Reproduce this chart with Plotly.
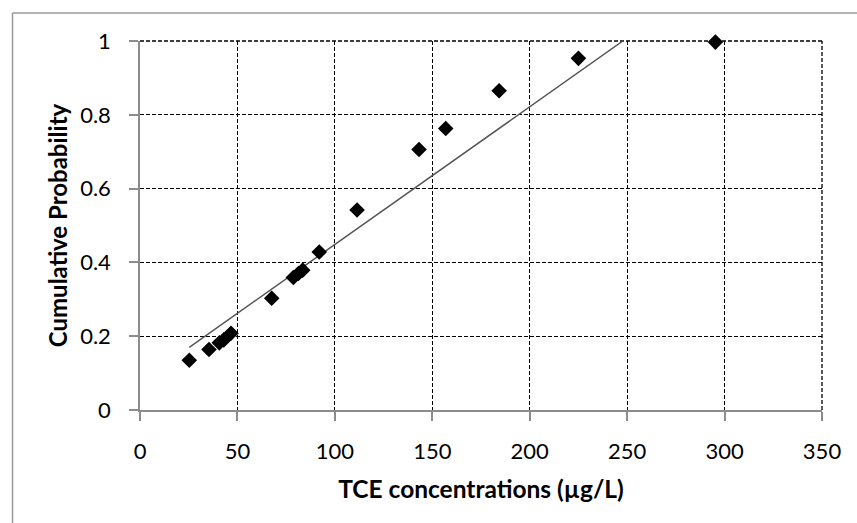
import plotly.graph_objects as go

# Observed data (TCE concentration in ug/L vs cumulative probability)
tce_conc = [25.3, 35.4, 40.7, 43.0, 46.7, 67.6, 78.7, 81.3, 83.5, 92.0,
            111.4, 143.2, 156.9, 184.3, 225.0, 295.3]
cum_prob = [0.135, 0.164, 0.182, 0.190, 0.208, 0.303, 0.359, 0.370, 0.379, 0.428,
            0.542, 0.706, 0.763, 0.865, 0.953, 0.997]

# Fitted line endpoints
fit_x = [25.3, 247.8]
fit_y = [0.170, 1.000]

x_ticks = [0, 50, 100, 150, 200, 250, 300, 350]
y_ticks = [0, 0.2, 0.4, 0.6, 0.8, 1]
y_tick_labels = ["0", "0.2", "0.4", "0.6", "0.8", "1"]

W, H = 857, 523
L, R, T, B = 140, 35, 41, 113
pw, ph = W - L - R, H - T - B

fig = go.Figure()
fig.add_trace(go.Scatter(
    x=fit_x, y=fit_y, mode="lines",
    line=dict(color="#555555", width=1.5), showlegend=False, hoverinfo="skip"))
fig.add_trace(go.Scatter(
    x=tce_conc, y=cum_prob, mode="markers", cliponaxis=False,
    marker=dict(symbol="diamond", size=12, color="black"), showlegend=False))

font_family = "Lato, 'Open Sans', sans-serif"
grid_dash = "4px,2px"

fig.update_xaxes(
    range=[0, 350], tickvals=x_ticks, showgrid=True, gridcolor="black", gridwidth=1.3,
    griddash=grid_dash, showline=True, linecolor="#8c8c8c", linewidth=1.5,
    ticks="outside", ticklen=9, tickcolor="#8c8c8c", tickwidth=1.5,
    ticklabelstandoff=12, zeroline=False,
    tickfont=dict(family=font_family, size=22, color="black"),
    title=dict(text="<b>TCE concentrations (µg/L)</b>", standoff=18,
               font=dict(family=font_family, size=24.5, color="black")))
fig.update_yaxes(
    range=[0, 1], tickvals=y_ticks, ticktext=y_tick_labels, showgrid=True, gridcolor="black",
    gridwidth=1.3, griddash=grid_dash, showline=True, linecolor="#8c8c8c", linewidth=1.5,
    ticks="outside", ticklen=9, tickcolor="#8c8c8c", tickwidth=1.5,
    ticklabelstandoff=14, zeroline=False,
    tickfont=dict(family=font_family, size=22, color="black"),
    title=dict(text="<b>Cumulative Probability</b>", standoff=6,
               font=dict(family=font_family, size=24, color="black")))

# gridlines at the range ends (top and right), drawn below the data
fig.add_shape(type="line", xref="paper", yref="paper", x0=0, x1=1, y0=1, y1=1,
              layer="below", line=dict(color="black", width=1.3, dash=grid_dash))
fig.add_shape(type="line", xref="paper", yref="paper", x0=1, x1=1, y0=0, y1=1,
              layer="below", line=dict(color="black", width=1.3, dash=grid_dash))

# outer chart border (left and top edges visible)
bx = (12.5 - L) / pw
by = (H - B - 13) / ph
fig.add_shape(type="line", xref="paper", yref="paper", x0=bx, x1=bx, y0=-B / ph, y1=by,
              line=dict(color="#9a9a9a", width=1.5))
fig.add_shape(type="line", xref="paper", yref="paper", x0=bx, x1=(W - L) / pw, y0=by, y1=by,
              line=dict(color="#9a9a9a", width=1.5))

fig.update_layout(
    width=W, height=H, margin=dict(l=L, r=R, t=T, b=B),
    paper_bgcolor="white", plot_bgcolor="white")

fig.write_html("out.html")
